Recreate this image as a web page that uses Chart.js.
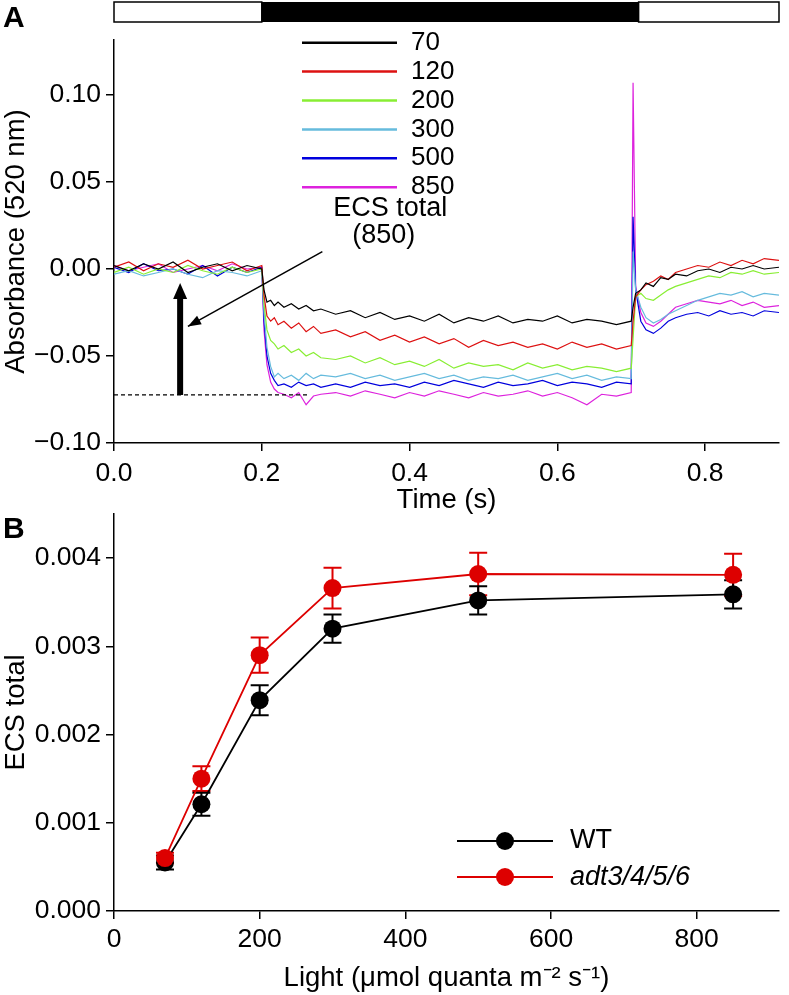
<!DOCTYPE html>
<html>
<head>
<meta charset="utf-8">
<script src="https://cdn.jsdelivr.net/npm/chart.js"></script>
<style>
  body { margin: 0; background: #fff; width: 789px; height: 995px; position: relative; overflow: hidden;
         font-family: "Liberation Sans", Arial, sans-serif; }
  .wrap { position: absolute; left: 0; width: 789px; }
  #wrapA { top: 0; height: 517px; }
  #wrapB { top: 492px; height: 503px; }
  .panel { position: absolute; left: 3px; font-weight: bold; font-size: 30px; line-height: 1; }
</style>
</head>
<body>
<div class="wrap" id="wrapA"><canvas id="chartA" width="789" height="517"></canvas></div>
<div class="wrap" id="wrapB"><canvas id="chartB" width="789" height="503"></canvas></div>
<div class="panel" style="top:2px">A</div>
<div class="panel" style="top:513px">B</div>
<script>
// Panel A: ECS traces (time in s, absorbance at 520 nm)
const timeS = [
  0, 0.02, 0.04, 0.06, 0.08, 0.10, 0.12, 0.14, 0.16, 0.18, 0.20,
  0.203, 0.207, 0.212, 0.217, 0.222, 0.23, 0.24, 0.25, 0.26, 0.27, 0.28,
  0.30, 0.32, 0.34, 0.36, 0.38, 0.40, 0.42, 0.44, 0.46, 0.48, 0.50, 0.52, 0.54, 0.56, 0.58, 0.60, 0.62, 0.64, 0.66, 0.68, 0.70,
  0.7025, 0.706, 0.713, 0.72, 0.73, 0.74, 0.75, 0.76, 0.775, 0.79, 0.805, 0.82, 0.835, 0.85, 0.865, 0.88, 0.90
];
const trace70 = [
  0.002, -0.001, 0.003, 0.000, 0.004, -0.002, 0.001, 0.003, -0.001, 0.002, 0.000,
  -0.012, -0.019, -0.018, -0.021, -0.019, -0.022, -0.020, -0.023, -0.021, -0.024, -0.023,
  -0.026, -0.024, -0.028, -0.025, -0.029, -0.027, -0.030, -0.026, -0.031, -0.028, -0.030, -0.027, -0.031, -0.029, -0.030, -0.027, -0.031, -0.029, -0.030, -0.032, -0.030,
  -0.022, -0.014, -0.012, -0.008, -0.010, -0.005, -0.006, -0.003, -0.004, -0.001, 0.000, -0.002, 0.001, 0.000, 0.002, 0.000, 0.001
];
const trace120 = [
  0.001, 0.004, -0.001, 0.003, 0.001, 0.005, 0.000, 0.002, 0.004, -0.001, 0.002,
  -0.015, -0.027, -0.030, -0.028, -0.032, -0.030, -0.034, -0.031, -0.036, -0.033, -0.037,
  -0.035, -0.039, -0.036, -0.041, -0.038, -0.042, -0.039, -0.043, -0.040, -0.045, -0.041, -0.044, -0.042, -0.045, -0.043, -0.046, -0.042, -0.045, -0.043, -0.046, -0.044,
  -0.030, -0.016, -0.012, -0.009, -0.007, -0.004, -0.006, -0.002, 0.000, 0.002, 0.001, 0.004, 0.002, 0.005, 0.003, 0.006, 0.005
];
const trace200 = [
  -0.002, 0.001, -0.003, 0.000, -0.002, 0.002, -0.001, -0.003, 0.001, -0.002, 0.000,
  -0.020, -0.035, -0.041, -0.043, -0.046, -0.044, -0.048, -0.046, -0.050, -0.048, -0.051,
  -0.052, -0.050, -0.054, -0.051, -0.055, -0.053, -0.056, -0.052, -0.057, -0.054, -0.056, -0.055, -0.058, -0.054, -0.057, -0.055, -0.058, -0.056, -0.057, -0.059, -0.057,
  -0.040, -0.016, -0.014, -0.017, -0.018, -0.015, -0.012, -0.010, -0.008, -0.006, -0.004, -0.005, -0.002, -0.003, -0.001, -0.003, -0.002
];
const trace300 = [
  -0.003, -0.001, -0.004, -0.002, 0.000, -0.003, -0.005, -0.001, -0.002, -0.004, -0.001,
  -0.025, -0.045, -0.056, -0.062, -0.060, -0.063, -0.061, -0.064, -0.060, -0.063, -0.061,
  -0.062, -0.060, -0.063, -0.061, -0.064, -0.062, -0.060, -0.063, -0.061, -0.064, -0.062, -0.063, -0.061, -0.064, -0.062, -0.060, -0.063, -0.061, -0.064, -0.062, -0.063,
  0.010, -0.012, -0.022, -0.028, -0.031, -0.029, -0.026, -0.024, -0.021, -0.018, -0.016, -0.014, -0.015, -0.013, -0.016, -0.014, -0.015
];
const trace500 = [
  0.001, -0.002, 0.003, -0.001, 0.000, -0.003, 0.002, -0.004, 0.001, -0.002, 0.001,
  -0.030, -0.050, -0.060, -0.064, -0.067, -0.066, -0.068, -0.065, -0.067, -0.066, -0.068,
  -0.066, -0.068, -0.065, -0.067, -0.066, -0.068, -0.065, -0.067, -0.064, -0.066, -0.068, -0.065, -0.067, -0.066, -0.064, -0.067, -0.065, -0.066, -0.068, -0.065, -0.066,
  0.030, -0.012, -0.030, -0.035, -0.037, -0.034, -0.030, -0.028, -0.026, -0.025, -0.027, -0.024, -0.026, -0.025, -0.027, -0.024, -0.025
];
const trace850 = [
  0.002, -0.001, 0.001, 0.003, -0.002, 0.000, 0.002, -0.001, 0.003, 0.000, 0.001,
  -0.035, -0.055, -0.065, -0.069, -0.071, -0.072, -0.074, -0.071, -0.078, -0.073, -0.072,
  -0.071, -0.073, -0.070, -0.072, -0.074, -0.071, -0.073, -0.070, -0.072, -0.074, -0.071, -0.073, -0.072, -0.070, -0.073, -0.071, -0.074, -0.078, -0.072, -0.073, -0.071,
  0.107, -0.010, -0.025, -0.031, -0.033, -0.030, -0.026, -0.022, -0.020, -0.018, -0.019, -0.020, -0.018, -0.021, -0.019, -0.022, -0.021
];
const lightLabels = ['70', '120', '200', '300', '500', '850'];
const darkStart = 0.2;
const darkEnd = 0.71;
const timeTicks = [0, 0.2, 0.4, 0.6, 0.8];
const absTicks = [-0.10, -0.05, 0, 0.05, 0.10];

// Panel B: ECS total vs light
const lightLevels = [70, 120, 200, 300, 500, 850];
const ecsWT = [0.00055, 0.00121, 0.00239, 0.00320, 0.00352, 0.00359];
const ecsWTse = [0.00008, 0.00013, 0.00017, 0.00016, 0.00016, 0.00016];
const ecsAdt = [0.00060, 0.00150, 0.00290, 0.00366, 0.00382, 0.00381];
const ecsAdtSe = [0.00006, 0.00014, 0.00020, 0.00023, 0.00024, 0.00024];
const lightTicks = [0, 200, 400, 600, 800];
const ecsTicks = [0, 0.001, 0.002, 0.003, 0.004];

Chart.defaults.font.family = '"Liberation Sans", Arial, sans-serif';
Chart.defaults.color = '#000';

const traces = [trace70, trace120, trace200, trace300, trace500, trace850];
const traceColors = ['#000000', '#dd1111', '#88ee33', '#66bbdd', '#0000dd', '#dd22dd'];
const FONT = '"Liberation Sans", Arial, sans-serif';

function axisStyle() {
  return {
    grid: { drawOnChartArea: false, tickLength: 8, color: '#000', lineWidth: 1.5 },
    border: { color: '#000', width: 1.5 }
  };
}

function minusFmt(v, d) {
  if (Math.abs(v) < 1e-9) return (0).toFixed(d);
  return (v < 0 ? '\u2212' : '') + Math.abs(v).toFixed(d);
}

// extra drawing for panel A: light bar, legend, ECS total arrows
const annotA = {
  id: 'annotA',
  afterDatasetsDraw(chart) {
    const { ctx, chartArea, scales: { x, y } } = chart;
    ctx.save();
    // light/dark bar
    const barTop = chartArea.top - 38, barH = 20;
    const x0 = x.getPixelForValue(0), x1 = x.getPixelForValue(darkStart);
    const x2 = x.getPixelForValue(darkEnd), x3 = x.getPixelForValue(0.9);
    ctx.lineWidth = 1.5;
    ctx.strokeStyle = '#000';
    ctx.fillStyle = '#000';
    ctx.strokeRect(x0, barTop, x1 - x0, barH);
    ctx.fillRect(x1, barTop, x2 - x1, barH);
    ctx.strokeRect(x2, barTop, x3 - x2, barH);

    // legend
    ctx.font = '26px ' + FONT;
    ctx.textBaseline = 'middle';
    ctx.textAlign = 'left';
    lightLabels.forEach((lab, i) => {
      const ly = chartArea.top + 2.7 + i * 28.9;
      ctx.strokeStyle = traceColors[i];
      ctx.lineWidth = 2.5;
      ctx.beginPath();
      ctx.moveTo(chartArea.left + 188, ly);
      ctx.lineTo(chartArea.left + 283, ly);
      ctx.stroke();
      ctx.fillStyle = '#000';
      ctx.fillText(lab, chartArea.left + 297, ly);
    });

    // dashed baseline
    const yb = y.getPixelForValue(-0.0724);
    ctx.strokeStyle = '#000';
    ctx.lineWidth = 1.2;
    ctx.setLineDash([4, 3]);
    ctx.beginPath();
    ctx.moveTo(x.getPixelForValue(0), yb);
    ctx.lineTo(x.getPixelForValue(0.262), yb);
    ctx.stroke();
    ctx.setLineDash([]);

    // thick arrow
    const ax = x.getPixelForValue(0.0895);
    const tip = y.getPixelForValue(-0.008);
    ctx.fillStyle = '#000';
    ctx.fillRect(ax - 3, tip + 14, 6, yb - tip - 14);
    ctx.beginPath();
    ctx.moveTo(ax, tip);
    ctx.lineTo(ax - 7, tip + 16);
    ctx.lineTo(ax + 7, tip + 16);
    ctx.closePath();
    ctx.fill();

    // thin arrow
    const sx = x.getPixelForValue(0.282), sy = y.getPixelForValue(0.010);
    const tx = x.getPixelForValue(0.100), ty = y.getPixelForValue(-0.033);
    ctx.lineWidth = 1.5;
    ctx.beginPath();
    ctx.moveTo(sx, sy);
    ctx.lineTo(tx, ty);
    ctx.stroke();
    const ang = Math.atan2(ty - sy, tx - sx);
    ctx.beginPath();
    ctx.moveTo(tx, ty);
    ctx.lineTo(tx - 14 * Math.cos(ang - 0.35), ty - 14 * Math.sin(ang - 0.35));
    ctx.lineTo(tx - 14 * Math.cos(ang + 0.35), ty - 14 * Math.sin(ang + 0.35));
    ctx.closePath();
    ctx.fill();

    ctx.font = '27px ' + FONT;
    ctx.textAlign = 'center';
    ctx.fillText('ECS total', x.getPixelForValue(0.374), y.getPixelForValue(0.0345));
    ctx.fillText('(850)', x.getPixelForValue(0.365), y.getPixelForValue(0.0190));
    ctx.restore();
  }
};

new Chart(document.getElementById('chartA'), {
  type: 'line',
  data: {
    datasets: traces.map((tr, i) => ({
      label: lightLabels[i],
      data: timeS.map((t, k) => ({ x: t, y: tr[k] })),
      borderColor: traceColors[i],
      borderWidth: 1.2,
      pointRadius: 0,
      tension: 0,
      fill: false
    }))
  },
  options: {
    responsive: false,
    animation: false,
    devicePixelRatio: 1,
    layout: { padding: { left: 0, right: 10, top: 40, bottom: 0 } },
    plugins: { legend: { display: false }, tooltip: { enabled: false } },
    scales: {
      x: {
        type: 'linear', min: 0, max: 0.9,
        afterBuildTicks: s => { s.ticks = timeTicks.map(v => ({ value: v })); },
        afterFit: s => { s.height = 74; },
        ticks: { callback: v => v.toFixed(1), font: { size: 26.5 }, padding: 7, maxRotation: 0, autoSkip: false },
        title: { display: true, text: 'Time (s)', font: { size: 27.5 }, padding: 0 },
        ...axisStyle()
      },
      y: {
        type: 'linear', min: -0.10, max: 0.1316,
        afterBuildTicks: s => { s.ticks = absTicks.map(v => ({ value: v })); },
        afterFit: s => { s.width = 114; },
        ticks: { callback: v => minusFmt(v, 2), font: { size: 26.5 }, padding: 5, autoSkip: false },
        title: { display: true, text: 'Absorbance (520 nm)', font: { size: 27.5 }, padding: 0 },
        ...axisStyle()
      }
    }
  },
  plugins: [annotA]
});

// panel B: error bars + legend
const errorBars = {
  id: 'errorBars',
  beforeDatasetsDraw(chart) {
    const { ctx, scales: { x, y } } = chart;
    ctx.save();
    chart.data.datasets.forEach(ds => {
      ctx.strokeStyle = ds.borderColor;
      ctx.lineWidth = 2;
      ds.data.forEach((p, i) => {
        const px = x.getPixelForValue(p.x);
        const hi = y.getPixelForValue(p.y + ds.err[i]);
        const lo = y.getPixelForValue(p.y - ds.err[i]);
        ctx.beginPath();
        ctx.moveTo(px, hi); ctx.lineTo(px, lo);
        ctx.moveTo(px - 9, hi); ctx.lineTo(px + 9, hi);
        ctx.moveTo(px - 9, lo); ctx.lineTo(px + 9, lo);
        ctx.stroke();
      });
    });
    ctx.restore();
  },
  afterDatasetsDraw(chart) {
    const { ctx, chartArea } = chart;
    const rows = [
      { text: 'WT', color: '#000', italic: false },
      { text: 'adt3/4/5/6', color: '#dd0000', italic: true }
    ];
    ctx.save();
    ctx.textBaseline = 'middle';
    ctx.textAlign = 'left';
    rows.forEach((r, i) => {
      const ly = chartArea.top + 327 + i * 36;
      ctx.strokeStyle = r.color;
      ctx.fillStyle = r.color;
      ctx.lineWidth = 1.8;
      ctx.beginPath();
      ctx.moveTo(chartArea.left + 343, ly);
      ctx.lineTo(chartArea.left + 439, ly);
      ctx.stroke();
      ctx.beginPath();
      ctx.arc(chartArea.left + 391, ly, 9, 0, Math.PI * 2);
      ctx.fill();
      ctx.fillStyle = '#000';
      ctx.font = (r.italic ? 'italic ' : '') + '27px ' + FONT;
      ctx.fillText(r.text, chartArea.left + 456, ly);
    });
    ctx.restore();
  }
};

new Chart(document.getElementById('chartB'), {
  type: 'line',
  data: {
    datasets: [
      {
        label: 'adt3/4/5/6',
        data: lightLevels.map((l, i) => ({ x: l, y: ecsAdt[i] })),
        err: ecsAdtSe,
        borderColor: '#dd0000', backgroundColor: '#dd0000',
        borderWidth: 1.8, pointRadius: 9, pointBorderWidth: 0, tension: 0
      },
      {
        label: 'WT',
        data: lightLevels.map((l, i) => ({ x: l, y: ecsWT[i] })),
        err: ecsWTse,
        borderColor: '#000', backgroundColor: '#000',
        borderWidth: 1.8, pointRadius: 9, pointBorderWidth: 0, tension: 0
      }
    ]
  },
  options: {
    responsive: false,
    animation: false,
    devicePixelRatio: 1,
    layout: { padding: { left: 0, right: 10, top: 22, bottom: 0 } },
    plugins: { legend: { display: false }, tooltip: { enabled: false } },
    scales: {
      x: {
        type: 'linear', min: 0, max: 913,
        afterBuildTicks: s => { s.ticks = lightTicks.map(v => ({ value: v })); },
        afterFit: s => { s.height = 84; },
        ticks: { callback: v => String(v), font: { size: 26.5 }, padding: 5, maxRotation: 0, autoSkip: false },
        title: { display: true, text: 'Light (\u03bcmol quanta m\u207b\u00b2 s\u207b\u00b9)', font: { size: 27.5 }, padding: 0 },
        ...axisStyle()
      },
      y: {
        type: 'linear', min: 0, max: 0.0045,
        afterBuildTicks: s => { s.ticks = ecsTicks.map(v => ({ value: v })); },
        afterFit: s => { s.width = 114; },
        ticks: { callback: v => v.toFixed(3), font: { size: 26.5 }, padding: 5, autoSkip: false },
        title: { display: true, text: 'ECS total', font: { size: 27.5 }, padding: 0 },
        ...axisStyle()
      }
    }
  },
  plugins: [errorBars]
});
</script>
</body>
</html>
